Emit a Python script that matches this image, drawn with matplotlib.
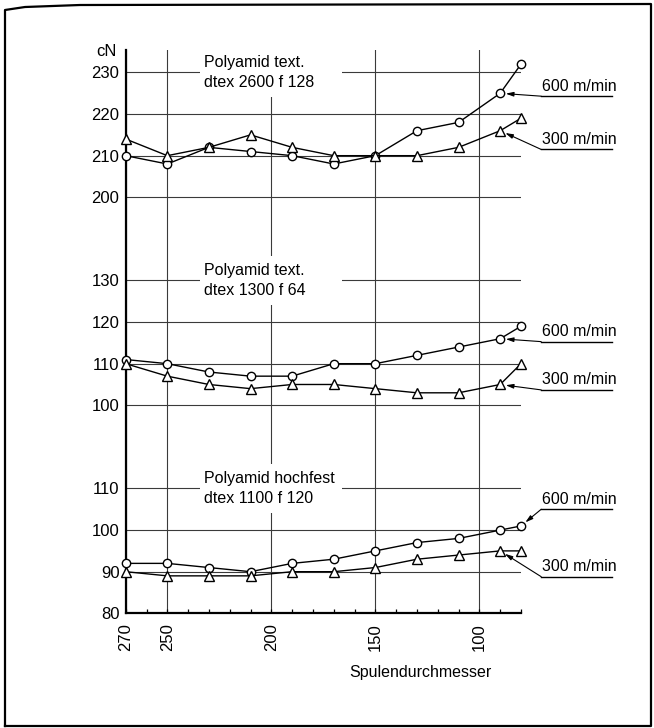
import numpy as np
import matplotlib
matplotlib.use("Agg")
import matplotlib.pyplot as plt
from matplotlib import font_manager
from matplotlib.patches import Rectangle
from matplotlib.lines import Line2D

# ---- data -------------------------------------------------------------
diameters = [270, 250, 230, 210, 190, 170, 150, 130, 110, 90, 80]

top_600 = [210, 208, 212, 211, 210, 208, 210, 216, 218, 225, 232]
top_300 = [214, 210, 212, 215, 212, 210, 210, 210, 212, 216, 219]
mid_600 = [111, 110, 108, 107, 107, 110, 110, 112, 114, 116, 119]
mid_300 = [110, 107, 105, 104, 105, 105, 104, 103, 103, 105, 110]
bot_600 = [92, 92, 91, 90, 92, 93, 95, 97, 98, 100, 101]
bot_300 = [90, 89, 89, 89, 90, 90, 91, 93, 94, 95, 95]

top_ticks = [200, 210, 220, 230]
mid_ticks = [100, 110, 120, 130]
bot_ticks = [80, 90, 100, 110]

x_ticks = [270, 250, 200, 150, 100]

top_title = "Polyamid text.\ndtex 2600 f 128"
mid_title = "Polyamid text.\ndtex 1300 f 64"
bot_title = "Polyamid hochfest\ndtex 1100 f 120"

speed_fast = "600 m/min"
speed_slow = "300 m/min"

# ---- font ---------------------------------------------------------------
names = {f.name for f in font_manager.fontManager.ttflist}
if "Liberation Sans Narrow" in names:
    fam = ["Liberation Sans Narrow", "DejaVu Sans"]
    FS = 13
else:
    fam = ["Liberation Sans", "DejaVu Sans"]
    FS = 11.5
plt.rcParams["font.family"] = fam
TICK_FS = FS + 0.5

# ---- stacked panels share one vertical scale; each gets an offset ------
panels = [
    dict(offset=-20, ticks=top_ticks, s600=top_600, s300=top_300, title=top_title,
         u600=224.3, u300=211.5, i600=9, i300=9),
    dict(offset=30, ticks=mid_ticks, s600=mid_600, s300=mid_300, title=mid_title,
         u600=115.3, u300=103.7, i600=9, i300=9),
    dict(offset=0, ticks=bot_ticks, s600=bot_600, s300=bot_300, title=bot_title,
         u600=105.0, u300=88.8, i600=10, i300=9),
]

W, H = 654, 728
fig = plt.figure(figsize=(W / 100, H / 100), dpi=100)
x0, x1 = 125.7, 521.0
y_bot, y_top = 613.3, 50.0
ax = fig.add_axes([x0 / W, 1 - y_bot / H, (x1 - x0) / W, (y_bot - y_top) / H])
ax.set_xlim(270, 80)
ax.set_ylim(80, 215.4)

# y ticks and labels
yt, yl = [], []
for p in panels:
    for t in p["ticks"]:
        yt.append(t + p["offset"])
        yl.append(str(t))
ax.set_yticks(yt)
ax.set_yticklabels(yl, fontsize=TICK_FS)
ax.tick_params(axis="y", length=0, pad=4.5)

ax.set_xticks(x_ticks)
ax.set_xticklabels([str(v) for v in x_ticks], rotation=90, fontsize=TICK_FS)
ax.set_xticks(np.arange(80, 271, 10), minor=True)
ax.tick_params(axis="x", which="both", direction="in", length=3, width=0.9, pad=7)

ax.grid(True, color="#3a3a3a", lw=0.8)
ax.set_axisbelow(True)
for s in ("top", "right"):
    ax.spines[s].set_visible(False)
for s in ("left", "bottom"):
    ax.spines[s].set_linewidth(1.6)

# curves, titles and speed labels
for p in panels:
    off = p["offset"]
    gy = max(p["ticks"]) + off
    ax.add_patch(Rectangle((166, gy - 6), 68.3, 12, facecolor="white",
                           edgecolor="none", zorder=1))
    ax.text(232.2, gy, p["title"], ha="left", va="center", fontsize=FS,
            linespacing=1.4, zorder=4)

    y600 = np.array(p["s600"]) + off
    y300 = np.array(p["s300"]) + off
    ax.plot(diameters, y600, color="black", lw=1.0, marker="o", ms=6,
            mfc="white", mec="black", mew=1.0, zorder=3, clip_on=False)
    ax.plot(diameters, y300, color="black", lw=1.0, marker="^", ms=6.5,
            mfc="white", mec="black", mew=1.0, zorder=3, clip_on=False)

    for label, uy, idx, ys in ((speed_fast, p["u600"], p["i600"], y600),
                               (speed_slow, p["u300"], p["i300"], y300)):
        uy_v = uy + off
        ax.plot([70.3, 36.5], [uy_v, uy_v], color="black", lw=1.0, clip_on=False)
        ax.annotate("", xy=(diameters[idx], ys[idx]), xytext=(70.3, uy_v),
                    arrowprops=dict(arrowstyle="-|>,head_length=0.45,head_width=0.13",
                                    color="black", lw=0.8, shrinkA=0, shrinkB=4),
                    annotation_clip=False)
        ax.text(70.0, uy_v + 0.6, label, ha="left", va="bottom", fontsize=FS)

fig.text(106 / W, 1 - 52 / H, "cN", ha="center", va="center", fontsize=TICK_FS)
fig.text(420 / W, 1 - 672 / H, "Spulendurchmesser", ha="center", va="center",
         fontsize=FS)

# page frame
fx = [5, 5, 25, 80, 651, 651, 5]
fy = [726, 10, 7, 5, 4, 726, 726]
fig.add_artist(Line2D([v / W for v in fx], [1 - v / H for v in fy],
                      transform=fig.transFigure, color="black", lw=1.6))

fig.savefig("out.png", dpi=100)
